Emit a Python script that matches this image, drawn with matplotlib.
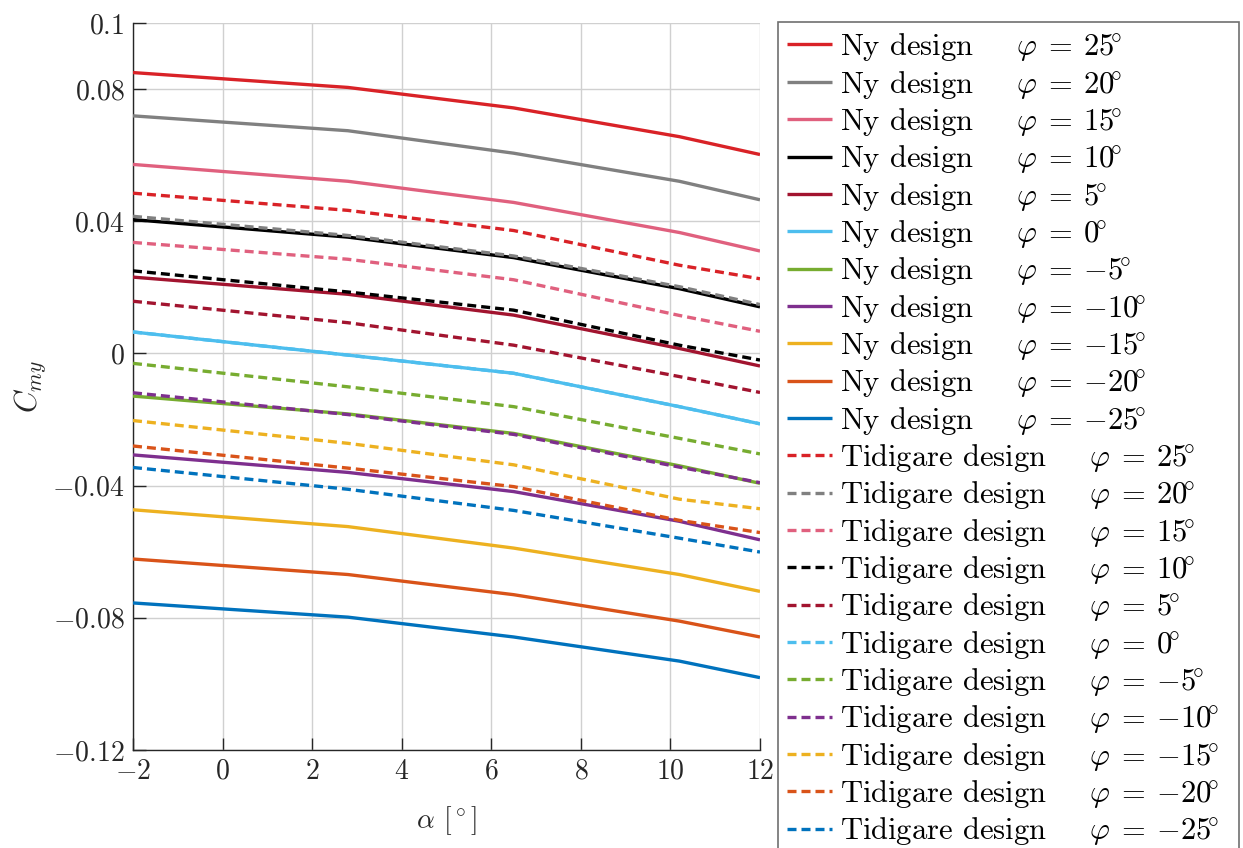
import matplotlib
matplotlib.use("Agg")
import matplotlib.pyplot as plt
from matplotlib.lines import Line2D

plt.rcParams["font.family"] = "cmr10"
plt.rcParams["mathtext.fontset"] = "cm"
plt.rcParams["axes.unicode_minus"] = True

# Angle of attack sample points
alpha = [-2, 2.8, 6.5, 10.2, 12]
phi_values = [25, 20, 15, 10, 5, 0, -5, -10, -15, -20, -25]

# Pitching moment coefficient, new design
ny_25 = [0.0850, 0.0805, 0.0743, 0.0656, 0.0602]
ny_20 = [0.0719, 0.0674, 0.0606, 0.0521, 0.0465]
ny_15 = [0.0572, 0.0521, 0.0457, 0.0366, 0.0310]
ny_10 = [0.0405, 0.0352, 0.0290, 0.0196, 0.0141]
ny_5 = [0.0231, 0.0179, 0.0116, 0.0015, -0.0038]
ny_0 = [0.0065, -0.0005, -0.0060, -0.0161, -0.0213]
ny_m5 = [-0.0129, -0.0183, -0.0242, -0.0340, -0.0393]
ny_m10 = [-0.0307, -0.0360, -0.0418, -0.0508, -0.0564]
ny_m15 = [-0.0473, -0.0524, -0.0589, -0.0669, -0.0720]
ny_m20 = [-0.0622, -0.0669, -0.0730, -0.0810, -0.0858]
ny_m25 = [-0.0755, -0.0798, -0.0858, -0.0931, -0.0981]

# Pitching moment coefficient, earlier design
tid_25 = [0.0485, 0.0433, 0.0372, 0.0267, 0.0226]
tid_20 = [0.0415, 0.0357, 0.0295, 0.0202, 0.0148]
tid_15 = [0.0336, 0.0285, 0.0223, 0.0115, 0.0067]
tid_10 = [0.0250, 0.0186, 0.0131, 0.0025, -0.0020]
tid_5 = [0.0158, 0.0093, 0.0025, -0.0070, -0.0118]
tid_0 = [0.0065, -0.0005, -0.0060, -0.0161, -0.0213]
tid_m5 = [-0.0030, -0.0101, -0.0161, -0.0257, -0.0304]
tid_m10 = [-0.0119, -0.0185, -0.0245, -0.0344, -0.0391]
tid_m15 = [-0.0203, -0.0272, -0.0337, -0.0441, -0.0470]
tid_m20 = [-0.0280, -0.0347, -0.0403, -0.0505, -0.0542]
tid_m25 = [-0.0345, -0.0411, -0.0475, -0.0559, -0.0601]

ny_series = [ny_25, ny_20, ny_15, ny_10, ny_5, ny_0,
             ny_m5, ny_m10, ny_m15, ny_m20, ny_m25]
tid_series = [tid_25, tid_20, tid_15, tid_10, tid_5, tid_0,
              tid_m5, tid_m10, tid_m15, tid_m20, tid_m25]

colors = ["#D92227", "#808080", "#E0607E", "#000000", "#A2142F", "#4DBEEE",
          "#77AC30", "#7E2F8E", "#EDB120", "#D95319", "#0072BD"]

xticks = [-2, 0, 2, 4, 6, 8, 10, 12]
yticks = [-0.12, -0.08, -0.04, 0, 0.04, 0.08, 0.1]
ytick_labels = [r"$-0.12$", r"$-0.08$", r"$-0.04$", r"$0$", r"$0.04$", r"$0.08$", r"$0.1$"]
xtick_labels = [r"$-2$", r"$0$", r"$2$", r"$4$", r"$6$", r"$8$", r"$10$", r"$12$"]


def phi_label(prefix, phi):
    return prefix + r" $\quad\;\varphi\:=\:%d\!^{\circ}$" % phi


fig = plt.figure(figsize=(12.43, 8.48), dpi=100)
ax = fig.add_axes([133 / 1243, 1 - 750 / 848, 627 / 1243, 727 / 848])

lw = 2.4
dash = (2.7, 1.5)
handles = []
labels = []
for phi, ys, c in zip(phi_values, ny_series, colors):
    ax.plot(alpha, ys, color=c, lw=lw, solid_capstyle="butt", zorder=3)
    handles.append(Line2D([], [], color=c, lw=lw, solid_capstyle="butt"))
    labels.append(phi_label("Ny design", phi))
for phi, ys, c in zip(phi_values, tid_series, colors):
    ax.plot(alpha, ys, color=c, lw=lw, linestyle=(0, dash), zorder=3)
    handles.append(Line2D([], [], color=c, lw=lw, linestyle=(0, dash)))
    labels.append(phi_label("Tidigare design", phi))

ax.set_xlim(-2, 12)
ax.set_ylim(-0.12, 0.1)
ax.set_xticks(xticks)
ax.set_xticklabels(xtick_labels)
ax.set_yticks(yticks)
ax.set_yticklabels(ytick_labels)
ax.grid(True, color="#D0D0D0", lw=1.0, zorder=0)
ax.set_axisbelow(True)

for side in ["top", "right"]:
    ax.spines[side].set_visible(False)
for side in ["left", "bottom"]:
    ax.spines[side].set_color("#262626")
    ax.spines[side].set_linewidth(1.0)
ax.tick_params(direction="in", length=9, width=1.0, colors="#262626",
               labelsize=20, labelcolor="#262626", pad=6)

ax.set_xlabel(r"$\alpha$ [$^\circ$]", fontsize=20, color="#262626", labelpad=14)
ax.set_ylabel(r"$C_{my}$", fontsize=22, color="#262626", labelpad=3)

leg = fig.legend(handles, labels, loc="upper left",
                 bbox_to_anchor=(778 / 1243, 1 - 22 / 848, (1239 - 778) / 1243, 0.0),
                 mode="expand", fontsize=22, frameon=True, fancybox=False,
                 edgecolor="#707070", framealpha=1.0, handlelength=1.47,
                 handletextpad=0.26, labelspacing=0.175, borderpad=0.3,
                 borderaxespad=0.0)
leg.get_frame().set_linewidth(1.2)

fig.savefig("out.png", dpi=100)
